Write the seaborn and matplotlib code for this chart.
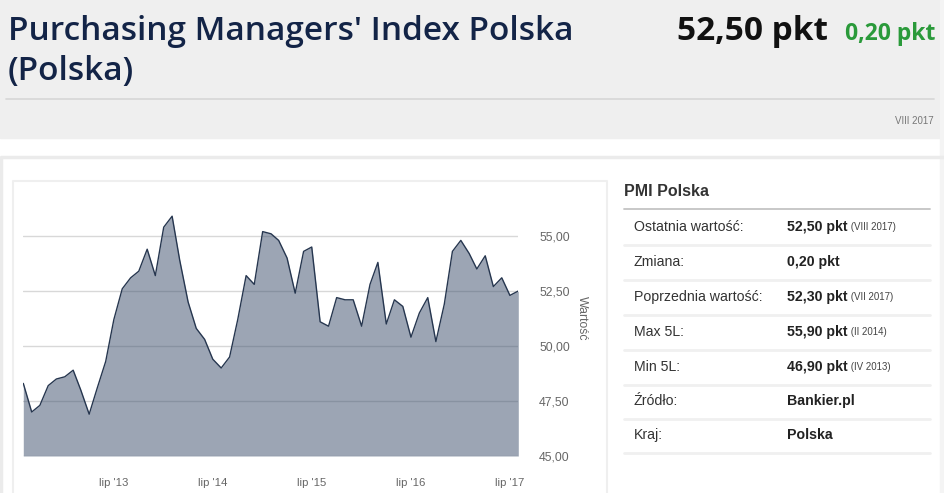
import numpy as np
import pandas as pd
import matplotlib
matplotlib.use("Agg")
import matplotlib.pyplot as plt
from matplotlib.patches import Rectangle
import seaborn as sns

sns.set_theme(style="white")
plt.rcParams["font.family"] = ["Liberation Sans", "DejaVu Sans"]

# PMI Polska, monthly VIII 2012 - VIII 2017
months = pd.date_range("2012-08-01", periods=61, freq="MS")
pmi = [48.3, 47.0, 47.3, 48.2, 48.5, 48.6, 48.9, 48.0, 46.9, 48.1, 49.3, 51.2,
       52.6, 53.1, 53.4, 54.4, 53.2, 55.4, 55.9, 53.9, 52.0, 50.8, 50.3, 49.4,
       49.0, 49.5, 51.2, 53.2, 52.8, 55.2, 55.1, 54.8, 54.0, 52.4, 54.3, 54.5,
       51.1, 50.9, 52.2, 52.1, 52.1, 50.9, 52.8, 53.8, 51.0, 52.1, 51.8, 50.4,
       51.5, 52.2, 50.2, 51.9, 54.3, 54.8, 54.2, 53.5, 54.1, 52.7, 53.1, 52.3,
       52.5]
df = pd.DataFrame({"data": months, "pmi": pmi})

tick_dates = pd.to_datetime(["2013-07-01", "2014-07-01", "2015-07-01", "2016-07-01", "2017-07-01"])
tick_labels = ["lip '13", "lip '14", "lip '15", "lip '16", "lip '17"]
y_ticks = [45, 47.5, 50, 52.5, 55]
y_labels = ["45,00", "47,50", "50,00", "52,50", "55,00"]

table_labels = ["Ostatnia wartość:", "Zmiana:", "Poprzednia wartość:", "Max 5L:",
                "Min 5L:", "Źródło:", "Kraj:"]
table_values = ["52,50 pkt", "0,20 pkt", "52,30 pkt", "55,90 pkt", "46,90 pkt",
                "Bankier.pl", "Polska"]
table_notes = ["(VIII 2017)", "", "(VII 2017)", "(II 2014)", "(IV 2013)", "", ""]

W, H = 945, 493
fig = plt.figure(figsize=(W / 100, H / 100), dpi=100)
fig.patch.set_facecolor("white")

# overlay in pixel coords
bg = fig.add_axes([0, 0, 1, 1])
bg.set_xlim(0, W)
bg.set_ylim(H, 0)
bg.axis("off")

# header
bg.add_patch(Rectangle((0, 0), 940, 138, color="#efefef", zorder=0))
bg.add_patch(Rectangle((940, 0), 5, H, color="#f4f4f4", zorder=0))
bg.text(8, 31, "Purchasing Managers' Index Polska", fontsize=24, fontweight=600,
        color="#132447", family="Open Sans", va="center", ha="left")
bg.text(8, 71, "(Polska)", fontsize=24, fontweight=600, color="#132447",
        family="Open Sans", va="center", ha="left")
bg.text(828, 31, "52,50 pkt", fontsize=24, fontweight="bold", color="#111111",
        family="Open Sans", va="center", ha="right")
bg.text(935, 34, "0,20 pkt", fontsize=16.5, fontweight="bold", color="#2a9a3a",
        family="Open Sans", va="center", ha="right")
bg.plot([6, 934], [99, 99], color="#d6d6d6", lw=1.2)
bg.text(934, 121, "VIII 2017", fontsize=7, color="#777777", va="center", ha="right")

# panels
bg.plot([1, 1, 944], [H, 157, 157], color="#ebebeb", lw=2.5)
bg.plot([13, 13, 607, 607], [H, 180.5, 180.5, H], color="#efefef", lw=1.5)

# chart
ax = fig.add_axes([23.3 / W, (H - 456) / H, 495 / W, 253 / H])
ax.set_facecolor("none")
ax.set_axisbelow(True)
ax.fill_between(df["data"], df["pmi"], 45, color="#3a4d6b", alpha=0.5, lw=0, zorder=2)
sns.lineplot(data=df, x="data", y="pmi", ax=ax, color="#26364f", linewidth=1.0, zorder=3)
ax.set_xlim(months[0], months[-1])
ax.set_ylim(45, 56.5)
ax.set_yticks(y_ticks)
ax.set_yticklabels(y_labels)
ax.set_xticks(tick_dates)
ax.set_xticklabels(tick_labels)
ax.yaxis.tick_right()
ax.grid(axis="y", color="#d8d8d8", lw=1)
ax.grid(axis="x", visible=False)
for s in ["top", "left", "right"]:
    ax.spines[s].set_visible(False)
ax.spines["bottom"].set_position(("outward", 9))
ax.spines["bottom"].set_visible(False)
ax.tick_params(axis="y", length=0, pad=15, labelsize=8.8, labelcolor="#666666")
ax.tick_params(axis="x", length=5, width=1.2, color="#ccd6eb", direction="out",
               pad=1.5, labelsize=8.2, labelcolor="#666666")
ax.set_xlabel("")
ax.set_ylabel("")
bg.text(582, 318, "Wartość", rotation=-90, fontsize=8.8, color="#666666",
        va="center", ha="center")

# table
bg.text(624, 192, "PMI Polska", fontsize=11.5, fontweight="bold", color="#333333",
        va="center", ha="left")
bg.plot([624, 930], [209, 209], color="#c4c4c4", lw=1.3)
row_y = [227, 262, 297, 332, 367, 401, 435]
for i, (lab, val, note) in enumerate(zip(table_labels, table_values, table_notes)):
    y = row_y[i]
    bg.text(634, y, lab, fontsize=10.2, color="#333333", va="center", ha="left")
    t = bg.text(787, y, val, fontsize=10.2, fontweight="bold", color="#222222",
                va="center", ha="left")
    if note:
        bg.annotate(" " + note, xy=(1, 0.5), xycoords=t, fontsize=7, color="#444444",
                    va="center", ha="left")
    bg.plot([624, 930], [y + 18, y + 18], color="#f0f0f0", lw=2)

fig.savefig("out.png", dpi=100)
